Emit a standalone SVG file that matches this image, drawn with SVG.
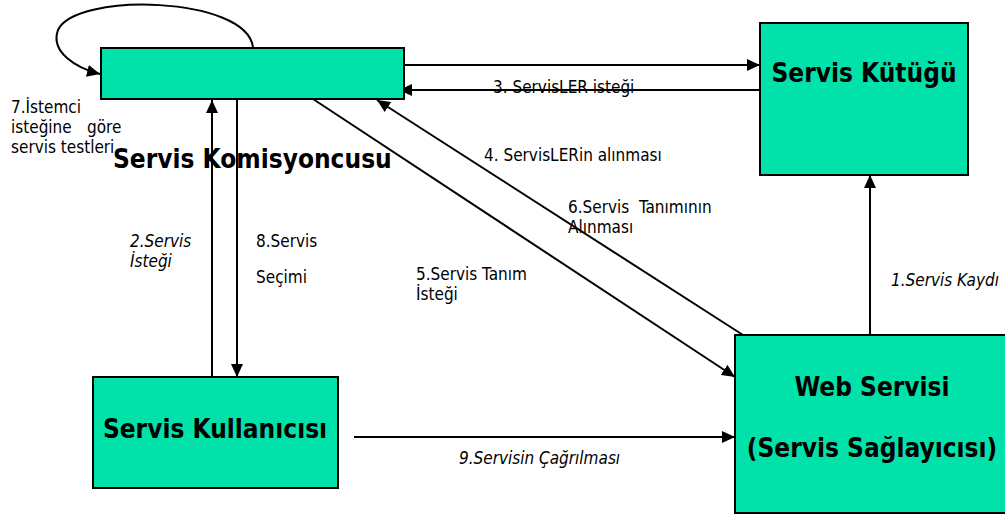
<svg xmlns="http://www.w3.org/2000/svg" width="1005" height="516" viewBox="0 0 1005 516">
<style>
.box{fill:#00E2A9;stroke:#000;stroke-width:2}
.title{font-family:"DejaVu Sans Condensed","DejaVu Sans",sans-serif;font-stretch:condensed;font-weight:bold;font-size:26px;fill:#000}
.lbl{font-family:"DejaVu Sans Condensed","DejaVu Sans",sans-serif;font-stretch:condensed;font-size:17px;fill:#000;white-space:pre}
.it{font-style:italic}
.ln{fill:none;stroke:#000;stroke-width:2}
.arr{marker-end:url(#ah)}
</style>
<defs>
<marker id="ah" markerUnits="userSpaceOnUse" markerWidth="14" markerHeight="12" refX="13" refY="6" orient="auto">
<path d="M0,0 L13,6 L0,12 Z" fill="#000"/>
</marker>
</defs>
<g id="connectors">
<path class="ln arr" d="M253,47 C246,-4 75,-8 58,30 C50,52 76,68 100,74"/>
<line class="ln arr" x1="397" y1="65" x2="760" y2="65"/>
<line class="ln arr" x1="760" y1="90" x2="399" y2="90"/>
<line class="ln arr" x1="212" y1="377" x2="212" y2="100"/>
<line class="ln arr" x1="237" y1="99" x2="237" y2="377"/>
<line class="ln arr" x1="313" y1="99" x2="735" y2="377"/>
<line class="ln arr" x1="743" y1="335" x2="377" y2="100"/>
<line class="ln arr" x1="870" y1="335" x2="870" y2="175"/>
<line class="ln arr" x1="354" y1="437" x2="735" y2="437"/>
<text class="lbl" x="11" y="113">7.İstemci</text>
<text class="lbl" x="11" y="133">isteğine<tspan x="87">göre</tspan></text>
<text class="lbl" x="11" y="153">servis testleri</text>
<text class="lbl" x="493" y="93">3. ServisLER isteği</text>
<text class="lbl" x="484" y="161">4. ServisLERin alınması</text>
<text class="lbl" x="568" y="213">6.Servis  Tanımının</text>
<text class="lbl" x="568" y="233">Alınması</text>
<text class="lbl" x="416" y="280">5.Servis Tanım</text>
<text class="lbl" x="416" y="300">İsteği</text>
<text class="lbl it" x="130" y="247">2.Servis</text>
<text class="lbl it" x="130" y="267">İsteği</text>
<text class="lbl" x="256" y="247">8.Servis</text>
<text class="lbl" x="256" y="283">Seçimi</text>
<text class="lbl it" x="891" y="286">1.Servis Kaydı</text>
<text class="lbl it" x="459" y="464">9.Servisin Çağrılması</text>
</g>
<g id="node-broker">
<rect class="box" x="101" y="48" width="303" height="51"/>
<text class="title" x="113" y="168">Servis Komisyoncusu</text>
</g>
<g id="node-registry">
<rect class="box" x="760" y="23" width="208" height="152"/>
<text class="title" x="864" y="82" text-anchor="middle">Servis Kütüğü</text>
</g>
<g id="node-consumer">
<rect class="box" x="93" y="377" width="245" height="111"/>
<text class="title" x="215" y="438" text-anchor="middle">Servis Kullanıcısı</text>
</g>
<g id="node-provider">
<rect class="box" x="735" y="335" width="275" height="178"/>
<text class="title" x="872" y="396" text-anchor="middle">Web Servisi</text>
<text class="title" x="872" y="457" text-anchor="middle">(Servis Sağlayıcısı)</text>
</g>
</svg>
